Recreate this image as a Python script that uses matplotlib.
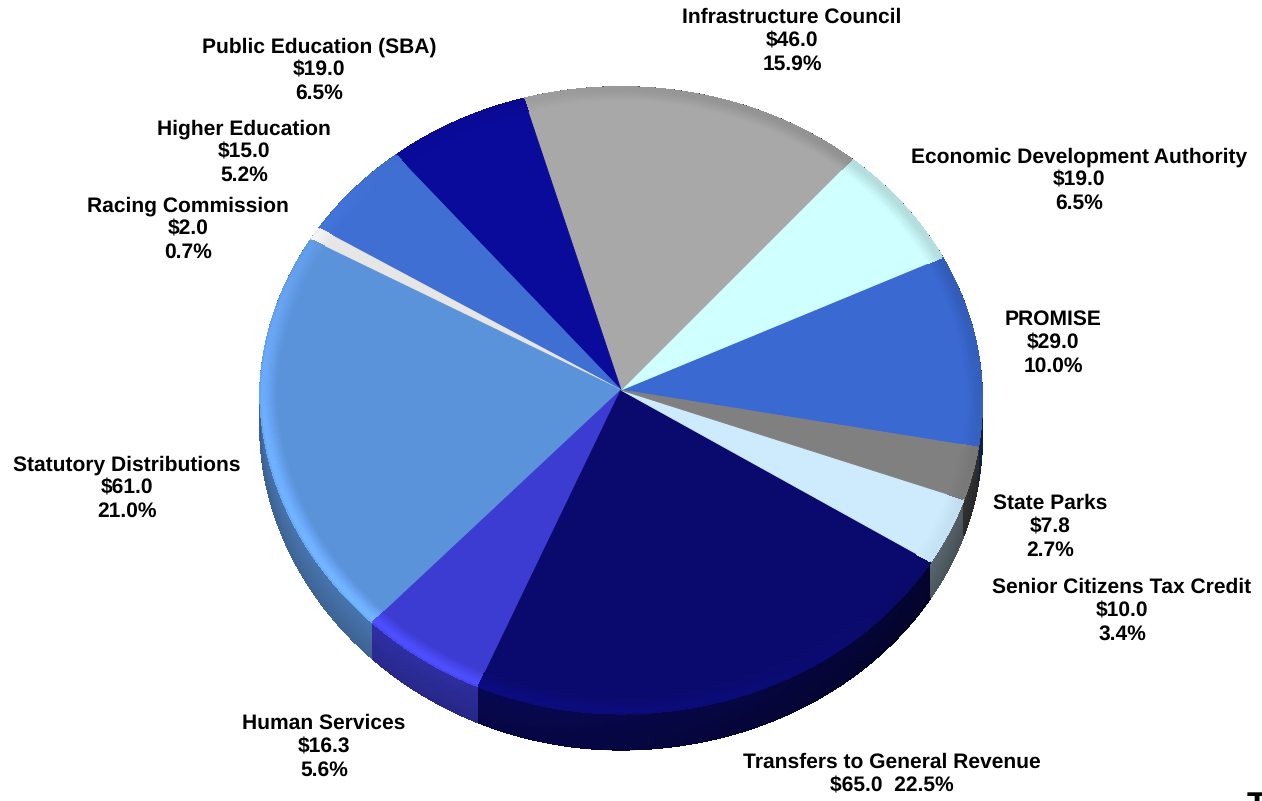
import numpy as np
import matplotlib
matplotlib.use("Agg")
import matplotlib.pyplot as plt
from matplotlib.collections import PolyCollection, LineCollection
from matplotlib.colors import to_rgb

plt.rcParams["text.hinting"] = "no_hinting"
plt.rcParams["text.hinting_factor"] = 1

# ---- data, counter-clockwise from the right-hand side of the pie
categories = ["PROMISE", "Economic Development Authority", "Infrastructure Council",
              "Public Education (SBA)", "Higher Education", "Racing Commission",
              "Statutory Distributions", "Human Services", "Transfers to General Revenue",
              "Senior Citizens Tax Credit", "State Parks"]
values = [29.0, 19.0, 46.0, 19.0, 15.0, 2.0, 61.0, 16.3, 65.0, 10.0, 7.8]
percents = [10.0, 6.5, 15.9, 6.5, 5.2, 0.7, 21.0, 5.6, 22.5, 3.4, 2.7]

# ---- styles and layout
colors = ["#3A69D2", "#CFFFFF", "#A8A8A8", "#0A0A9B", "#3F6FD2", "#E6E6E6",
          "#5B93DB", "#3C3CD2", "#0A0A6E", "#CDEBFC", "#808080"]
label_xy = [(1053, 343), (1079, 180), (792, 41), (319, 70), (244, 152), (188, 229),
            (127, 488), (324, 747), (892, 774), (1122, 611), (1050, 527)]
START = -10.5
CX, CY, RX, RY, K = 621.0, 390.0, 361.0, 313.0, 0.033
DEPTH = 36.0
FS = 15.3

fig = plt.figure(figsize=(12.62, 8.01), dpi=100)
ax = fig.add_axes([0, 0, 1, 1])
ax.set_xlim(0, 1262)
ax.set_ylim(801, 0)
ax.axis("off")


def project(theta_deg, r=1.0, dz=0.0):
    t = np.radians(theta_deg)
    x, y = r * np.cos(t), r * np.sin(t)
    d = 1 + K * y
    dx = np.where((y > 0) | (x > 0), d, 1.0)
    return CX + RX * x / dx, CY - RY * y / d + dz


def rim_factor(theta):
    return np.cos(np.radians(theta - 225.0))


def side_factor(theta):
    return 0.56 + 0.24 * np.cos(np.radians(theta - 208.0))


edges = START + np.concatenate([[0], np.cumsum(values)]) / np.sum(values) * 360.0


def quad(t0, t1, r0, r1, z0, z1):
    xa, ya = project(t0, r0, z0)
    xb, yb = project(t1, r0, z0)
    xc, yc = project(t1, r1, z1)
    xd, yd = project(t0, r1, z1)
    return [(xa, ya), (xb, yb), (xc, yc), (xd, yd)]


# side wall
for c, a0, a1 in zip(colors, edges[:-1], edges[1:]):
    base = np.array(to_rgb(c))
    n = max(2, int((a1 - a0) * 1.5))
    th = np.linspace(a0, a1, n + 1)
    polys, cols = [], []
    layers = np.linspace(0, DEPTH, 10)
    for j in range(len(layers) - 1):
        for i in range(n):
            polys.append(quad(th[i], th[i + 1], 1, 1, layers[j], layers[j + 1]))
            m = side_factor(0.5 * (th[i] + th[i + 1])) * (1.0 - 0.15 * j / (len(layers) - 1))
            cols.append(np.clip(base * m, 0, 1))
    ax.add_collection(PolyCollection(polys, facecolors=cols, edgecolors=cols, linewidths=0.6,
                                     antialiaseds=False, zorder=2))
    # smooth lower outline of the wall
    xs, ys = project(th, 1, DEPTH)
    segs = [[(xs[i], ys[i]), (xs[i + 1], ys[i + 1])] for i in range(n)]
    lc = [np.clip(base * side_factor(0.5 * (th[i] + th[i + 1])) * 0.85, 0, 1) for i in range(n)]
    ax.add_collection(LineCollection(segs, colors=lc, linewidths=0.9, zorder=2.1))

# top face
RIM = 0.955
for c, a0, a1 in zip(colors, edges[:-1], edges[1:]):
    base = np.array(to_rgb(c))
    th = np.linspace(a0, a1, max(3, int((a1 - a0) * 2)))
    xo, yo = project(th, RIM + 0.002)
    ax.fill(np.r_[CX, xo], np.r_[CY, yo], facecolor=base, edgecolor=base, linewidth=0.7, zorder=3)
    rings = np.linspace(RIM, 1.0, 9)
    polys, cols = [], []
    for j in range(len(rings) - 1):
        rm = 0.5 * (rings[j] + rings[j + 1])
        w = min(1.0, (rm - RIM) / 0.035)
        for i in range(len(th) - 1):
            polys.append(quad(th[i], th[i + 1], rings[j], rings[j + 1], 0, 0))
            f = rim_factor(0.5 * (th[i] + th[i + 1]))
            if f > 0:
                col = base * (1 + 0.18 * f * w) + 0.03 * f * w * (base.max() > 0.5)
            else:
                col = base * (1 + 0.13 * f * w)
            cols.append(np.clip(col, 0, 1))
    ax.add_collection(PolyCollection(polys, facecolors=cols, edgecolors=cols, linewidths=0.5,
                                     antialiaseds=False, zorder=3))
    xs, ys = project(th, 1.0)
    segs = [[(xs[i], ys[i]), (xs[i + 1], ys[i + 1])] for i in range(len(th) - 1)]
    f = rim_factor(0.5 * (th[:-1] + th[1:]))
    lc = [np.clip(base * (1 + 0.13 * v), 0, 1) for v in f]
    ax.add_collection(LineCollection(segs, colors=lc, linewidths=0.8, zorder=3.1))

# labels
for name, v, p, (lx, ly) in zip(categories, values, percents, label_xy):
    if name.startswith("Transfers"):
        s = f"{name}\n${v:.1f}  {p:.1f}%"
    else:
        s = f"{name}\n${v:.1f}\n{p:.1f}%"
    ax.text(lx, ly, s, ha="center", va="center", fontsize=FS, fontweight="bold",
            family="Liberation Sans", color="black", linespacing=1.24, zorder=5)

ax.text(1257, 791, "T", ha="center", va="top", fontsize=24, fontweight="bold",
        family="Liberation Sans", color="black", zorder=5)

fig.savefig("out.png", dpi=100, facecolor="white")
